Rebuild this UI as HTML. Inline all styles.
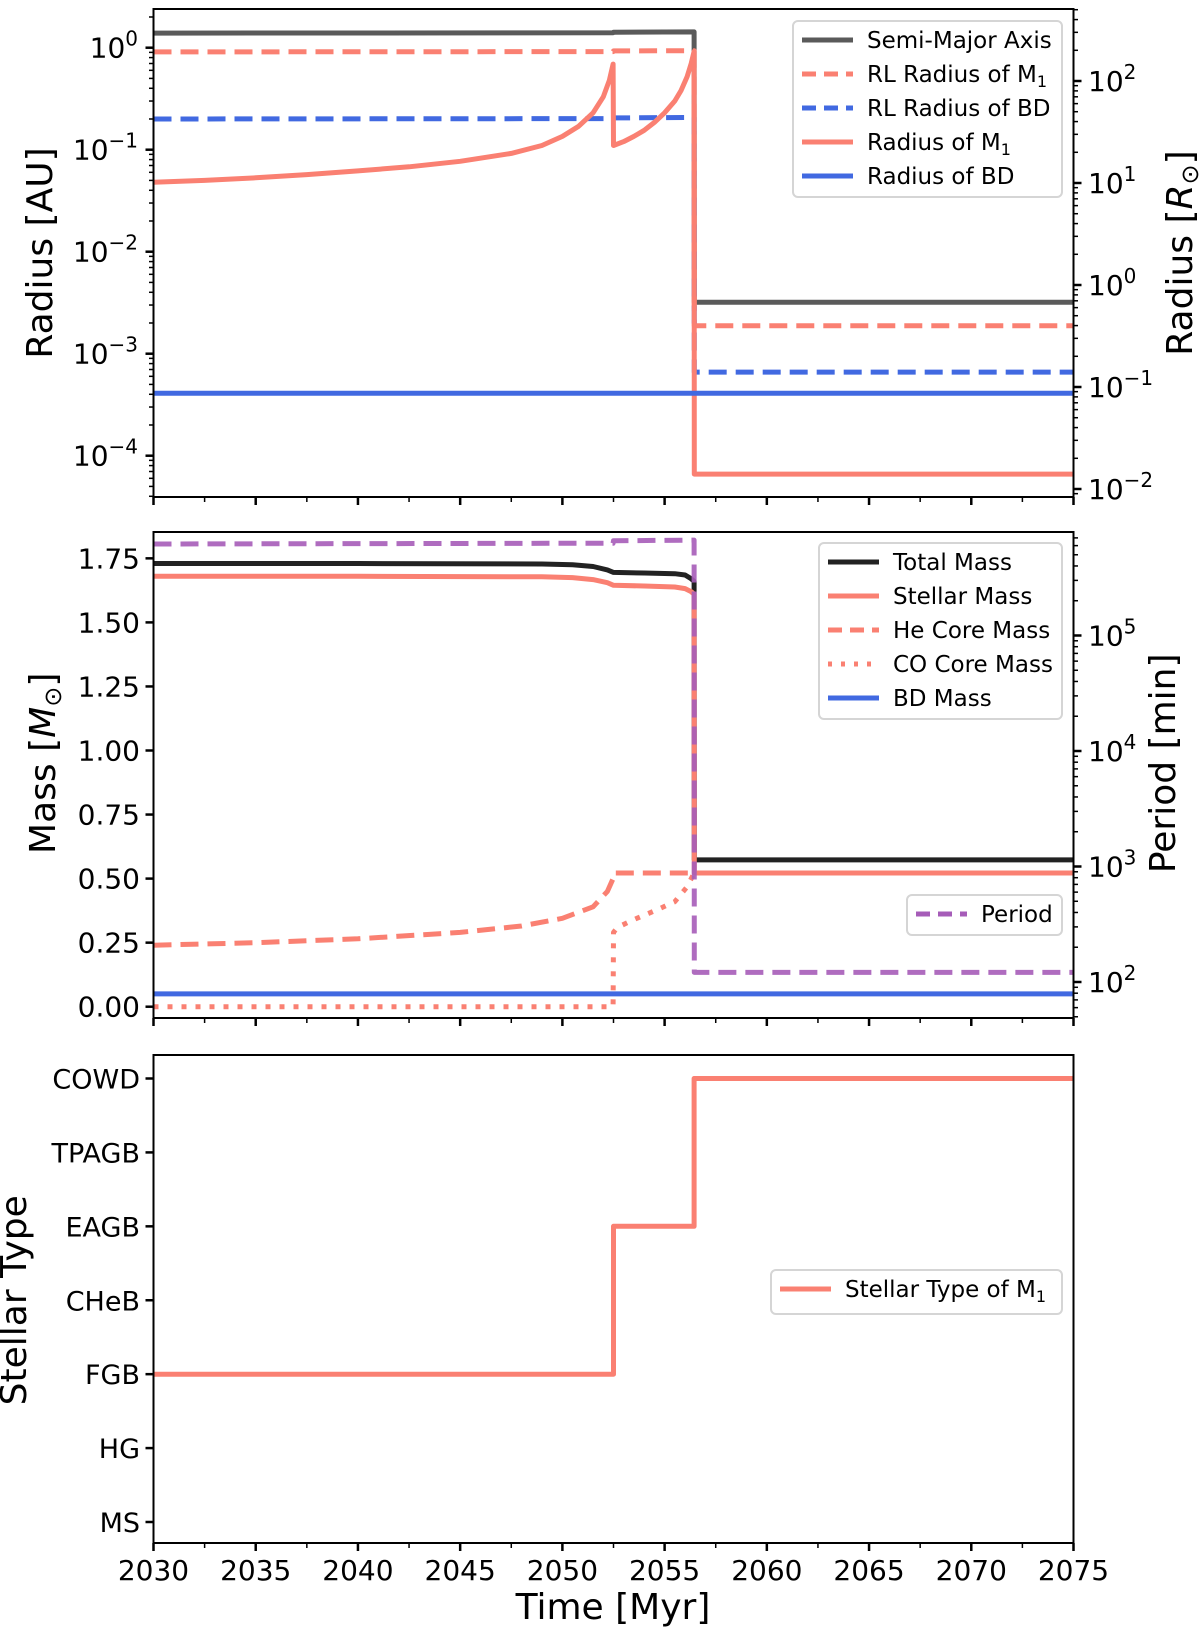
<!DOCTYPE html>
<html><head><meta charset="utf-8"><style>
html,body{margin:0;padding:0;background:#fff}
svg{display:block;font-family:"DejaVu Sans","Liberation Sans",sans-serif}
</style></head><body>
<svg id="fig" width="1200" height="1629" viewBox="0 0 1200 1629" xmlns="http://www.w3.org/2000/svg"></svg>
<script>
// ---- data ----
const xTicks=[2030,2035,2040,2045,2050,2055,2060,2065,2070,2075];
const sepTime=[2030,2052.48,2052.5,2056.44,2056.45,2075];
const sepVals=[1.39,1.40,1.42,1.43,0.0032,0.0032];
const rlM1Vals=[0.91,0.915,0.93,0.935,0.00188,0.00188];
const rlBDVals=[0.20,0.202,0.205,0.207,0.00066,0.00066];
const rBDTime=[2030,2075];
const rBDVals=[0.00041,0.00041];
const rM1Time=[2030,2032.5,2035,2037.5,2040,2042.5,2045,2047.5,2049,2050,2050.8,2051.5,2052,2052.3,2052.48,2052.5,2053,2053.5,2054,2054.5,2055,2055.5,2055.8,2056.1,2056.3,2056.44,2056.45,2075];
const rM1Vals=[0.048,0.050,0.053,0.057,0.062,0.068,0.077,0.092,0.11,0.135,0.17,0.23,0.33,0.48,0.69,0.11,0.12,0.135,0.155,0.185,0.23,0.30,0.38,0.52,0.70,0.92,0.000066,0.000066];
const massTime=[2030,2040,2049,2050.5,2051.5,2052.2,2052.5,2054,2055.5,2056,2056.3,2056.44,2056.45,2075];
const totalMass=[1.73,1.73,1.728,1.725,1.718,1.705,1.695,1.693,1.69,1.685,1.67,1.66,0.573,0.573];
const stellarMass=[1.68,1.68,1.678,1.675,1.667,1.655,1.645,1.642,1.638,1.632,1.62,1.61,0.522,0.522];
const heTime=[2030,2035,2040,2045,2048,2050,2051.5,2052.2,2052.48,2052.5,2075];
const heCore=[0.24,0.25,0.265,0.29,0.315,0.345,0.39,0.45,0.50,0.522,0.522];
const coTime=[2030,2052.48,2052.5,2052.7,2053.5,2054.6,2055.5,2056.1,2056.44,2075];
const coCore=[0,0,0.29,0.31,0.34,0.377,0.41,0.468,0.522,0.522];
const bdMassTime=[2030,2075];
const bdMass=[0.05,0.05];
const periodTime=[2030,2052.48,2052.5,2056.44,2056.45,2075];
const periodVals=[620000,630000,660000,670000,121,121];
const typeLabels=["MS","HG","FGB","CHeB","EAGB","TPAGB","COWD"];
const typeTime=[2030,2052.5,2052.5,2056.44,2056.44,2075];
const typeVals=[2,2,4,4,6,6];

const NS="http://www.w3.org/2000/svg";
const svg=document.getElementById('fig');
function el(t,a,p){const e=document.createElementNS(NS,t);for(const k in a)e.setAttribute(k,a[k]);(p||svg).appendChild(e);return e;}
const X0=153.5,X1=1073.5;
const xs=v=>X0+(v-2030)/45*(X1-X0);
const P1={t:9,b:497};
const y1=v=>47.7-Math.log10(v)*102;
const y1r=v=>285-Math.log10(v)*102;
const P2={t:532,b:1018};
const y2=v=>1006.7-v*256.2;
const y2p=v=>982-(Math.log10(v)-2)*115.5;
const P3={t:1055,b:1543};
const y3=v=>1522-v*(1522-1078.5)/6;

function line(tArr,vArr,ys,color,w,dash,name,op){
  const pts=tArr.map((t,i)=>xs(t).toFixed(1)+','+ys(vArr[i]).toFixed(1)).join(' ');
  const e=el('polyline',{points:pts,fill:'none',stroke:color,'stroke-width':w,'stroke-linejoin':'round'});
  if(dash)e.setAttribute('stroke-dasharray',dash);
  if(op)e.setAttribute('stroke-opacity',op);
  
  
  return e;
}
function text(x,y,s,size,anchor,name,rot){
  const e=el('text',{x:x,y:y,'font-size':size,'text-anchor':anchor||'middle',fill:'#000'});
  if(rot)e.setAttribute('transform','rotate(-90 '+x+' '+y+')');
  e.textContent=s;
  
  
  return e;
}
function powText(x,y,exp,name,anchor){
  const e=el('text',{x:x,y:y,'font-size':28,'text-anchor':anchor,fill:'#000'});
  
  
  const a=el('tspan',{},e);a.textContent='10';
  const b=el('tspan',{dy:-12,'font-size':20},e);b.textContent=(exp<0?'\u2212'+(-exp):String(exp));
  return e;
}
function tick(x1,y1_,x2,y2_,w){el('line',{x1:x1,y1:y1_,x2:x2,y2:y2_,stroke:'#000','stroke-width':w||2});}
function frame(P,name){
  const r=el('rect',{x:X0,y:P.t,width:X1-X0,height:P.b-P.t,fill:'none',stroke:'#000','stroke-width':2});
  
  
}
function xTicksFor(P,labels){
  xTicks.forEach(t=>{tick(xs(t),P.b,xs(t),P.b+8,2.5);if(labels)text(xs(t),P.b+37,String(t),28,'middle','x-tick-label');});
  for(let i=0;i<xTicks.length-1;i++){const m=(xTicks[i]+xTicks[i+1])/2;tick(xs(m),P.b,xs(m),P.b+5,1.5);}
}
function logTicks(ys,lo,hi,x,dir,P){
  for(let d=lo;d<=hi;d++){
    for(let k=1;k<10;k++){
      const v=k*Math.pow(10,d);const y=ys(v);
      if(y<P.t-0.5||y>P.b+0.5)continue;
      tick(x,y,x+dir*(k==1?8:4.5),y,k==1?2.5:1.5);
    }
  }
}
function clip(id,P){const c=el('clipPath',{id:id});el('rect',{x:X0,y:P.t,width:X1-X0,height:P.b-P.t},c);}
clip('c1',P1);clip('c2',P2);clip('c3',P3);

const SAL='#fa8072',BLU='#4169e1',GRY='#5a5a5a',PUR='#a65cb8';
function L(g,tA,vA,ys,c,w,d,n,op){const e=line(tA,vA,ys,c,w,d,n,op);g.appendChild(e);return e;}

// ---------- Panel 1 ----------
const g1=el('g',{'clip-path':'url(#c1)'});
L(g1,sepTime,sepVals,y1,GRY,5,null,'semi-major-axis-line');
L(g1,sepTime,rlM1Vals,y1,SAL,5,'18,9','rl-radius-m1-line');
L(g1,sepTime,rlBDVals,y1,BLU,5,'18,9','rl-radius-bd-line');
L(g1,rM1Time,rM1Vals,y1,SAL,5,null,'radius-m1-line');
L(g1,rBDTime,rBDVals,y1,BLU,5,null,'radius-bd-line');
frame(P1,'radius-axes-frame');
logTicks(y1,-5,0,X0,-1,P1);
logTicks(y1r,-3,2,X1,1,P1);
[0,-1,-2,-3,-4].forEach(e=>powText(138,y1(Math.pow(10,e))+10,e,'left-y-tick-label','end'));
[2,1,0,-1,-2].forEach(e=>powText(1088,y1r(Math.pow(10,e))+10,e,'right-y-tick-label','start'));
xTicksFor(P1,false);
text(52,253,'Radius [AU]',36,'middle','y-axis-title-au',true);
{const e=el('text',{x:1192,y:253,'font-size':36,'text-anchor':'middle',transform:'rotate(-90 1192 253)'});
 const a=el('tspan',{},e);a.textContent='Radius [';const b=el('tspan',{'font-style':'italic'},e);b.textContent='R';const c=el('tspan',{'font-size':24,dy:6},e);c.textContent='\u2299';const d=el('tspan',{dy:-6},e);d.textContent=']';}

function legend(x,y,w,h,items,name){
  const g=el('g',{});
  el('rect',{x:x,y:y,width:w,height:h,rx:5,fill:'#fff','fill-opacity':0.85,stroke:'#d5d5d5','stroke-width':2},g);
  items.forEach((it,i)=>{
    const yy=y+19+i*34;
    const ln=el('line',{x1:x+9,y1:yy,x2:x+60,y2:yy,stroke:it.c,'stroke-width':5},g);
    if(it.d)ln.setAttribute('stroke-dasharray',it.d);
    const t=el('text',{x:x+74,y:yy+8,'font-size':23,fill:'#000'},g);
    
    if(it.sub){const a=el('tspan',{},t);a.textContent=it.t;const b=el('tspan',{'font-size':16,dy:5},t);b.textContent=it.sub;}
    else t.textContent=it.t;
  });
}
legend(793,21,269,176,[{t:'Semi-Major Axis',c:GRY},{t:'RL Radius of M',sub:'1',c:SAL,d:'14,8'},{t:'RL Radius of BD',c:BLU,d:'14,8'},{t:'Radius of M',sub:'1',c:SAL},{t:'Radius of BD',c:BLU}],'radius-legend');

// ---------- Panel 2 ----------
const g2=el('g',{'clip-path':'url(#c2)'});
L(g2,massTime,totalMass,y2,'#222',5,null,'total-mass-line');
L(g2,massTime,stellarMass,y2,SAL,5,null,'stellar-mass-line');
L(g2,heTime,heCore,y2,SAL,5,'18,9','he-core-mass-line');
L(g2,coTime,coCore,y2,SAL,5,'5,9','co-core-mass-line');
L(g2,bdMassTime,bdMass,y2,BLU,5,null,'bd-mass-line');
L(g2,periodTime,periodVals,y2p,PUR,5,'18,9','period-line',0.9);
frame(P2,'mass-axes-frame');
[0,0.25,0.5,0.75,1,1.25,1.5,1.75].forEach(v=>{tick(X0,y2(v),X0-8,y2(v),2.5);text(140,y2(v)+10,v.toFixed(2),28,'end','mass-tick-label');});
logTicks(y2p,1,6,X1,1,P2);
[5,4,3,2].forEach(e=>powText(1088,y2p(Math.pow(10,e))+10,e,'period-tick-label','start'));
xTicksFor(P2,false);
{const e=el('text',{x:55,y:y2(0.95),'font-size':36,'text-anchor':'middle',transform:'rotate(-90 55 '+y2(0.95)+')'});
 const a=el('tspan',{},e);a.textContent='Mass [';const b=el('tspan',{'font-style':'italic'},e);b.textContent='M';const c=el('tspan',{'font-size':24,dy:6},e);c.textContent='\u2299';const d=el('tspan',{dy:-6},e);d.textContent=']';}
text(1175,y2(0.95),'Period [min]',36,'middle','y-axis-title-period',true);
legend(819,543,243,176,[{t:'Total Mass',c:'#222'},{t:'Stellar Mass',c:SAL},{t:'He Core Mass',c:SAL,d:'14,8'},{t:'CO Core Mass',c:SAL,d:'4,9'},{t:'BD Mass',c:BLU}],'mass-legend');
legend(907,895,155,40,[{t:'Period',c:PUR,d:'14,8'}],'period-legend');

// ---------- Panel 3 ----------
const g3=el('g',{'clip-path':'url(#c3)'});
L(g3,typeTime,typeVals,y3,SAL,5,null,'stellar-type-m1-line');
frame(P3,'stellar-type-axes-frame');
typeLabels.forEach((s,i)=>{tick(X0,y3(i),X0-8,y3(i),2.5);text(140,y3(i)+10,s,27,'end','stellar-type-tick-label');});
xTicksFor(P3,true);
text(26,y3(3),'Stellar Type',36,'middle','y-axis-title-stellar-type',true);
text(613,1619,'Time [Myr]',36,'middle','x-axis-title');
legend(771,1270,291,44,[{t:'Stellar Type of M',sub:'1',c:SAL}],'stellar-type-legend');
</script>
</body></html>
